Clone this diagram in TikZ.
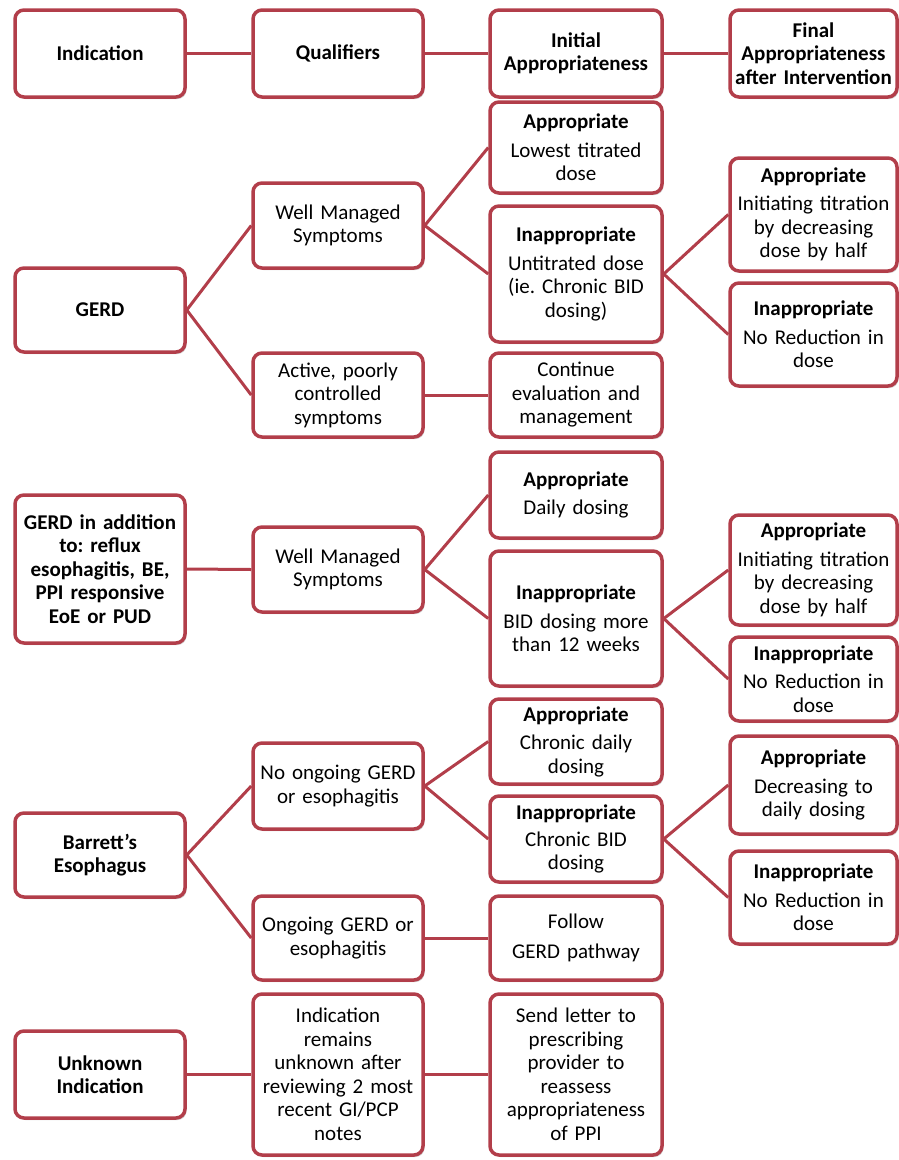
\documentclass[tikz,border=0pt]{standalone}
\usepackage{fontspec}
\setmainfont{Carlito}
\usetikzlibrary{shadows}
\definecolor{bord}{RGB}{178,62,74}
\tikzset{
 box/.style={draw=bord, line width=3.5pt, rounded corners=9pt, fill=white, align=center,
   font=\fontsize{21}{23.5}\selectfont\frenchspacing, inner sep=0pt,
   drop shadow={shadow xshift=1.5pt, shadow yshift=-2pt, opacity=0.3, fill=black!60}},
 link/.style={draw=bord, line width=3pt},
}
\newcommand\bx[6]{%
  \pgfmathsetmacro\bw{#4-#2}%
  \pgfmathsetmacro\bh{#5-#3}%
  \pgfmathsetmacro\tw{#4-#2}%
  \pgfmathsetmacro\cx{(#2+#4)/2}%
  \pgfmathsetmacro\cy{-(#3+#5)/2}%
  \node[box, minimum width=\bw pt, minimum height=\bh pt, text width=\tw pt] (#1) at (\cx,\cy) {#6};}
\begin{document}
\begin{tikzpicture}[x=1pt,y=1pt]
\useasboundingbox (0,0) rectangle (899,-1160);
% header
\bx{h1}{15}{10}{185}{97}{\textbf{Indication}}
\bx{h2}{253}{10}{423}{97}{\textbf{Qualifiers}}
\bx{h3}{490}{10}{662}{97}{\textbf{Initial\\Appropriateness}}
\bx{h4}{730}{10}{897}{97}{\textbf{Final\\Appropriateness\\after Intervention}}
% GERD
\bx{gerd}{15}{268}{185}{352}{\textbf{GERD}}
\bx{wm1}{253}{183}{423}{268}{Well Managed\\Symptoms}
\bx{act}{253}{353}{423}{437}{Active, poorly\\controlled\\symptoms}
\bx{a1}{490}{102}{662}{193}{\textbf{Appropriate}\\[5pt]Lowest titrated\\dose}
\bx{i1}{490}{206}{662}{342}{\textbf{Inappropriate}\\[5pt]Untitrated dose\\(ie. Chronic BID\\dosing)}
\bx{cont}{490}{353}{662}{437}{Continue\\evaluation and\\management}
\bx{fa1}{730}{158}{897}{271}{\textbf{Appropriate}\\[5pt]Initiating titration\\by decreasing\\dose by half}
\bx{fi1}{730}{283}{897}{386}{\textbf{Inappropriate}\\[5pt]No Reduction in\\dose}
% GERD in addition
\bx{gerd2}{15}{495}{185}{643}{\textbf{GERD in addition}\\\textbf{to: reflux}\\\textbf{esophagitis, BE,}\\\textbf{PPI responsive}\\\textbf{EoE or PUD}}
\bx{wm2}{253}{527}{423}{612}{Well Managed\\Symptoms}
\bx{a2}{490}{452}{662}{538}{\textbf{Appropriate}\\[5pt]Daily dosing}
\bx{i2}{490}{551}{662}{686}{\textbf{Inappropriate}\\[5pt]BID dosing more\\than 12 weeks}
\bx{fa2}{730}{515}{897}{625}{\textbf{Appropriate}\\[5pt]Initiating titration\\by decreasing\\dose by half}
\bx{fi2}{730}{637}{897}{721}{\textbf{Inappropriate}\\[5pt]No Reduction in\\dose}
% Barrett's
\bx{be}{15}{813}{185}{897}{\textbf{Barrett’s}\\\textbf{Esophagus}}
\bx{nog}{253}{743}{423}{829}{No ongoing GERD\\or esophagitis}
\bx{og}{253}{896}{423}{980}{Ongoing GERD or\\esophagitis}
\bx{a3}{490}{699}{662}{784}{\textbf{Appropriate}\\[5pt]Chronic daily\\dosing}
\bx{i3}{490}{796}{662}{882}{\textbf{Inappropriate}\\[3pt]Chronic BID\\dosing}
\bx{fol}{490}{896}{662}{980}{Follow\\[6pt]GERD pathway}
\bx{fa3}{730}{736}{897}{834}{\textbf{Appropriate}\\[5pt]Decreasing to\\daily dosing}
\bx{fi3}{730}{851}{897}{944}{\textbf{Inappropriate}\\[5pt]No Reduction in\\dose}
% Unknown
\bx{unk}{15}{1031}{185}{1118}{\textbf{Unknown}\\\textbf{Indication}}
\bx{rem}{253}{994}{423}{1155}{Indication\\remains\\unknown after\\reviewing 2 most\\recent GI/PCP\\notes}
\bx{let}{490}{994}{662}{1155}{Send letter to\\prescribing\\provider to\\reassess\\appropriateness\\of PPI}
% connectors
\draw[link] (h1.east) -- (h2.west);
\draw[link] (h2.east) -- (h3.west);
\draw[link] (h3.east) -- (h4.west);
\draw[link] (gerd.east) -- (wm1.west);
\draw[link] (gerd.east) -- (act.west);
\draw[link] (wm1.east) -- (a1.west);
\draw[link] (wm1.east) -- (i1.west);
\draw[link] (act.east) -- (cont.west);
\draw[link] (i1.east) -- (fa1.west);
\draw[link] (i1.east) -- (fi1.west);
\draw[link] (gerd2.east) -- (wm2.west);
\draw[link] (wm2.east) -- (a2.west);
\draw[link] (wm2.east) -- (i2.west);
\draw[link] (i2.east) -- (fa2.west);
\draw[link] (i2.east) -- (fi2.west);
\draw[link] (be.east) -- (nog.west);
\draw[link] (be.east) -- (og.west);
\draw[link] (nog.east) -- (a3.west);
\draw[link] (nog.east) -- (i3.west);
\draw[link] (og.east) -- (fol.west);
\draw[link] (i3.east) -- (fa3.west);
\draw[link] (i3.east) -- (fi3.west);
\draw[link] (unk.east) -- (rem.west);
\draw[link] (rem.east) -- (let.west);
\end{tikzpicture}
\end{document}
